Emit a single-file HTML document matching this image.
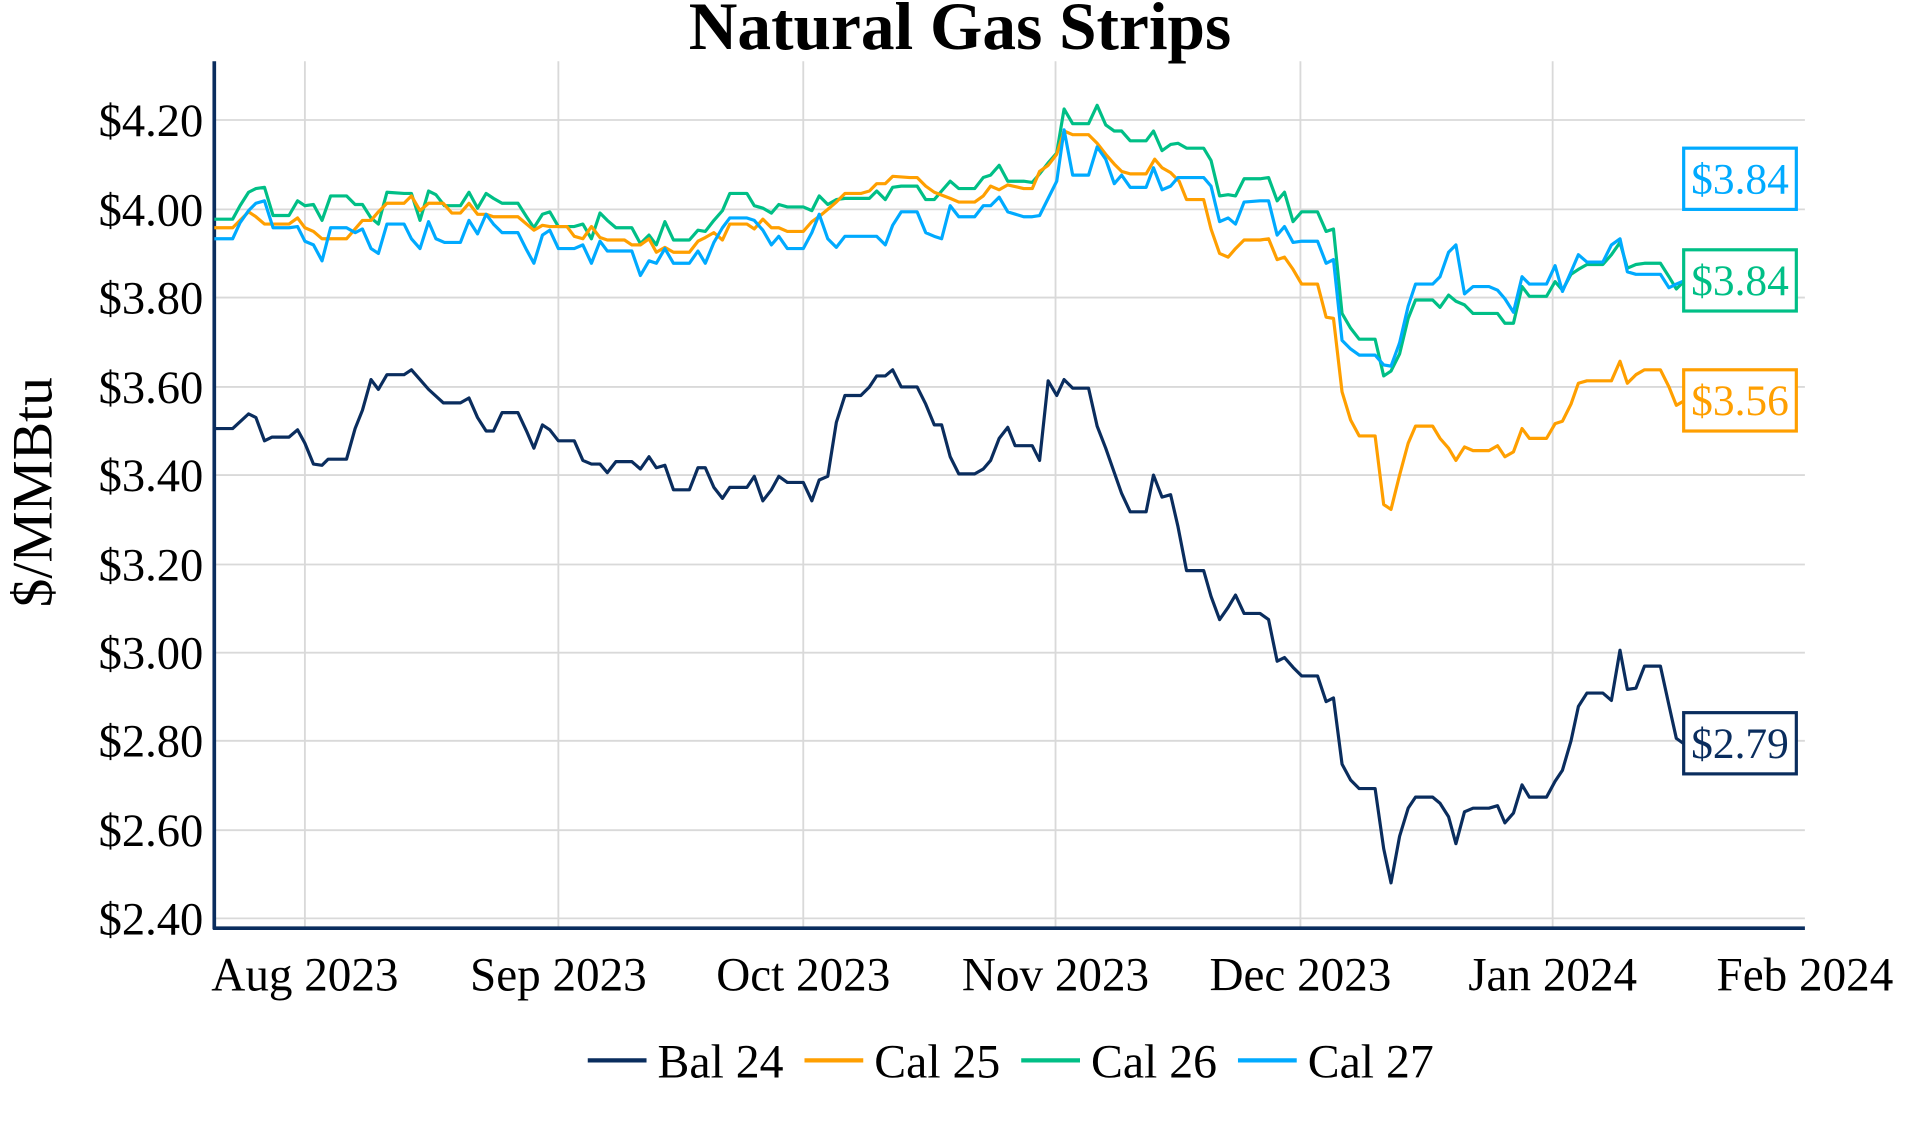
<!DOCTYPE html>
<html><head><meta charset="utf-8"><style>
html,body{margin:0;padding:0;background:#fff;}
svg{display:block;}
text{font-family:"Liberation Serif",serif;}
</style></head><body>
<svg width="1920" height="1128" viewBox="0 0 1568 921.2" xmlns="http://www.w3.org/2000/svg">
<rect width="1568" height="922" fill="#fff"/>
<g stroke="#d9d9d9" stroke-width="1.5">
<line x1="175" x2="1474" y1="98" y2="98"/><line x1="175" x2="1474" y1="171" y2="171"/><line x1="175" x2="1474" y1="243" y2="243"/><line x1="175" x2="1474" y1="316" y2="316"/><line x1="175" x2="1474" y1="388" y2="388"/><line x1="175" x2="1474" y1="461" y2="461"/><line x1="175" x2="1474" y1="533" y2="533"/><line x1="175" x2="1474" y1="605" y2="605"/><line x1="175" x2="1474" y1="678" y2="678"/><line x1="175" x2="1474" y1="750" y2="750"/>
<line x1="249" x2="249" y1="50" y2="758"/><line x1="456" x2="456" y1="50" y2="758"/><line x1="656" x2="656" y1="50" y2="758"/><line x1="862" x2="862" y1="50" y2="758"/><line x1="1062" x2="1062" y1="50" y2="758"/><line x1="1268" x2="1268" y1="50" y2="758"/>
</g>
<line x1="175" x2="175" y1="50" y2="759" stroke="#0a2d5e" stroke-width="3"/>
<line x1="174" x2="1474" y1="758" y2="758" stroke="#0a2d5e" stroke-width="3"/>
<text x="784" y="40" font-size="55" font-weight="bold" text-anchor="middle">Natural Gas Strips</text>
<g font-size="38" text-anchor="end">
<text x="166" y="111">$4.20</text><text x="166" y="184">$4.00</text><text x="166" y="256">$3.80</text><text x="166" y="329">$3.60</text><text x="166" y="401">$3.40</text><text x="166" y="474">$3.20</text><text x="166" y="546">$3.00</text><text x="166" y="618">$2.80</text><text x="166" y="691">$2.60</text><text x="166" y="763">$2.40</text>
</g>
<g font-size="38.5" text-anchor="middle">
<text x="249" y="809">Aug 2023</text><text x="456" y="809">Sep 2023</text><text x="656" y="809">Oct 2023</text><text x="862" y="809">Nov 2023</text><text x="1062" y="809">Dec 2023</text><text x="1268" y="809">Jan 2024</text><text x="1474" y="809">Feb 2024</text>
</g>
<text transform="translate(42,402) rotate(-90)" font-size="47" text-anchor="middle">$/MMBtu</text>
<g fill="none" stroke-width="2.6" stroke-linejoin="round">
<polyline stroke="#00bf86" points="175,179 190,179 196,168 203,157 209,154 216,153 223,176 236,176 243,164 249,168 256,167 263,180 270,160 283,160 290,167 296,167 303,178 309,183 316,157 330,158 336,158 343,180 350,156 356,159 363,168 376,168 383,157 390,170 397,158 403,162 410,166 423,166 430,177 436,186 443,175 449,173 456,185 469,185 476,183 483,195 490,174 496,180 503,186 516,186 523,199 530,192 536,200 543,181 550,196 563,196 570,188 576,189 583,180 590,172 596,158 610,158 616,168 623,170 630,174 636,167 643,169 656,169 663,172 669,160 676,167 683,163 690,162 703,162 710,162 716,156 723,163 729,153 736,152 749,152 756,163 763,163 769,156 776,148 783,154 796,154 803,145 809,143 816,135 823,148 836,148 843,149 849,142 856,133 863,125 869,89 876,101 889,101 896,86 903,102 910,107 916,107 923,115 936,115 942,107 949,123 956,118 962,117 969,121 983,121 989,131 996,160 1003,159 1009,160 1016,146 1029,146 1036,145 1043,164 1049,157 1056,181 1063,173 1076,173 1083,189 1089,187 1096,256 1103,268 1110,277 1123,277 1130,307 1136,303 1143,289 1150,260 1156,245 1170,245 1176,251 1183,241 1189,246 1196,249 1203,256 1216,256 1223,256 1229,264 1236,264 1243,234 1249,242 1263,242 1270,230 1276,237 1283,224 1289,220 1296,216 1309,216 1316,208 1323,198 1329,219 1336,216 1343,215 1356,215 1363,226 1369,236 1376,229"/>
<polyline stroke="#ff9f00" points="175,186 190,186 196,180 203,173 209,177 216,183 236,183 243,178 249,186 256,189 263,195 283,195 290,187 296,180 303,180 309,173 316,166 330,166 336,160 343,172 350,166 362,166 369,174 376,174 383,166 390,175 397,175 403,177 423,177 430,183 436,188 443,184 449,185 463,185 469,193 476,195 483,185 490,194 496,196 510,196 516,200 523,200 530,195 536,206 543,202 550,206 563,206 570,197 576,194 583,190 590,196 596,183 610,183 616,187 623,179 630,186 636,186 643,189 656,189 663,181 670,176 676,171 683,165 690,158 703,158 710,156 716,150 723,150 729,144 743,145 749,145 756,152 763,157 776,162 783,165 796,165 803,160 809,152 816,155 823,151 836,154 843,154 849,140 856,135 863,126 869,107 876,110 889,110 896,117 903,126 910,134 916,140 923,142 936,142 943,130 949,137 956,141 963,148 969,163 983,163 989,187 996,207 1003,210 1009,203 1016,196 1029,196 1036,195 1043,212 1049,210 1056,220 1063,232 1076,232 1083,259 1089,260 1096,320 1103,343 1110,356 1123,356 1130,412 1136,416 1143,388 1150,362 1156,348 1170,348 1176,358 1183,366 1189,376 1196,365 1203,368 1216,368 1223,364 1229,373 1236,369 1243,350 1249,358 1263,358 1270,346 1276,344 1283,330 1289,313 1296,311 1309,311 1316,311 1323,295 1329,313 1336,306 1343,302 1356,302 1363,316 1369,331 1376,327"/>
<polyline stroke="#00aaff" points="175,195 190,195 196,182 203,172 209,166 216,164 223,186 236,186 243,185 249,197 256,200 263,213 270,186 283,186 290,190 296,187 303,203 309,207 316,183 330,183 336,195 343,203 350,181 356,195 363,198 376,198 383,180 390,191 397,175 403,183 410,190 423,190 430,204 436,215 443,192 449,188 456,203 469,203 476,200 483,215 490,197 496,205 503,205 516,205 523,225 530,213 536,215 543,203 550,215 563,215 570,205 576,215 583,198 590,186 596,178 610,178 616,180 623,188 630,200 636,193 643,203 656,203 663,190 669,175 676,195 683,202 690,193 703,193 710,193 716,193 723,200 729,184 736,173 749,173 756,190 763,193 769,195 776,168 783,177 796,177 803,168 809,168 816,161 823,173 836,177 843,177 849,176 856,162 863,148 869,106 876,143 889,143 896,120 903,130 910,150 916,143 923,153 936,153 942,137 949,155 956,152 962,145 969,145 983,145 989,152 996,181 1003,178 1009,183 1016,165 1029,164 1036,164 1043,192 1049,185 1056,198 1063,197 1076,197 1083,215 1089,212 1096,278 1103,285 1110,290 1123,290 1130,298 1136,299 1143,280 1150,250 1156,232 1170,232 1176,226 1183,206 1189,200 1196,240 1203,234 1216,234 1223,237 1229,244 1236,255 1243,226 1249,232 1263,232 1270,217 1276,238 1283,222 1289,208 1296,214 1309,214 1316,200 1323,195 1329,222 1336,224 1343,224 1356,224 1363,235 1369,232 1376,229"/>
<polyline stroke="#0a2d5e" points="175,350 190,350 203,338 209,341 216,360 222,357 236,357 243,351 249,362 256,379 263,380 268,375 283,375 290,350 296,335 303,310 309,318 316,306 330,306 336,302 343,310 350,318 362,329 376,329 383,325 390,341 397,352 403,352 410,337 423,337 430,352 436,366 443,347 449,351 456,360 469,360 476,376 483,379 490,379 496,386 503,377 516,377 523,383 530,373 536,382 543,380 550,400 563,400 570,382 576,382 583,398 590,407 596,398 610,398 616,389 623,409 630,400 636,389 643,394 656,394 663,409 669,392 676,389 683,345 690,323 703,323 710,316 716,307 723,307 729,302 736,316 749,316 756,330 763,347 769,347 776,373 783,387 796,387 803,383 809,376 816,358 823,349 829,364 843,364 849,376 856,311 863,323 869,310 876,317 889,317 896,348 903,366 910,386 916,403 923,418 936,418 942,388 949,406 956,404 962,430 969,466 983,466 989,487 996,506 1003,496 1009,486 1016,501 1029,501 1036,506 1043,540 1049,537 1056,545 1063,552 1076,552 1083,573 1089,570 1096,624 1103,637 1110,644 1123,644 1130,693 1136,721 1143,683 1150,660 1156,651 1170,651 1176,656 1183,667 1189,689 1196,663 1203,660 1216,660 1223,658 1229,672 1236,664 1243,641 1249,651 1263,651 1270,638 1276,629 1283,605 1289,577 1296,566 1309,566 1316,572 1323,531 1329,563 1336,562 1343,544 1356,544 1363,576 1369,603 1376,608"/>
</g>
<g font-size="35.5" text-anchor="middle" stroke-width="2.6">
<rect x="1375" y="121" width="92" height="50" fill="#fff" stroke="#00aaff"/><text x="1421" y="158" fill="#00aaff">$3.84</text>
<rect x="1375" y="204" width="92" height="50" fill="#fff" stroke="#00bf86"/><text x="1421" y="241" fill="#00bf86">$3.84</text>
<rect x="1375" y="302" width="92" height="50" fill="#fff" stroke="#ff9f00"/><text x="1421" y="339" fill="#ff9f00">$3.56</text>
<rect x="1375" y="582" width="92" height="50" fill="#fff" stroke="#0a2d5e"/><text x="1421" y="619" fill="#0a2d5e">$2.79</text>
</g>
<g stroke-width="3.5">
<line x1="480" x2="528" y1="866" y2="866" stroke="#0a2d5e"/>
<line x1="657" x2="705" y1="866" y2="866" stroke="#ff9f00"/>
<line x1="834" x2="882" y1="866" y2="866" stroke="#00bf86"/>
<line x1="1011" x2="1059" y1="866" y2="866" stroke="#00aaff"/>
</g>
<g font-size="39">
<text x="537" y="880">Bal 24</text><text x="714" y="880">Cal 25</text><text x="891" y="880">Cal 26</text><text x="1068" y="880">Cal 27</text>
</g>
</svg>
</body></html>
